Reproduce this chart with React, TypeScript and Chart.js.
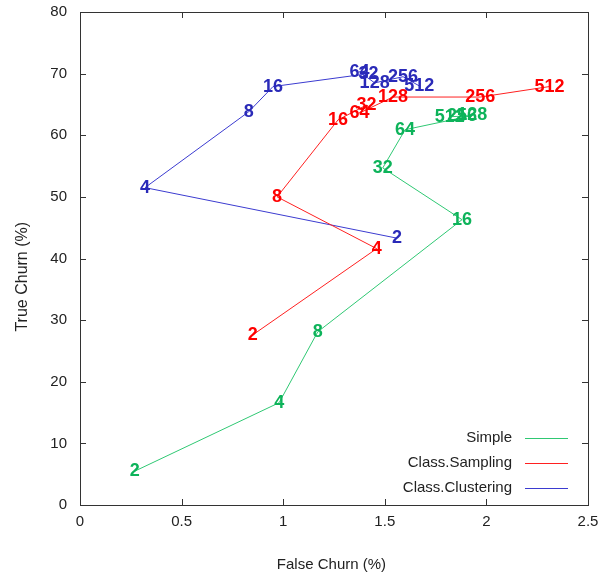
import React, { useEffect, useRef } from "react";
import { Chart, registerables } from "chart.js";

Chart.register(...registerables);

// ---- data ----
const pointLabels = ["2", "4", "8", "16", "32", "64", "128", "256", "512"];

const simpleX = [0.27, 0.98, 1.17, 1.88, 1.49, 1.6, 1.93, 1.88, 1.82];
const simpleY = [5.5, 16.6, 28.1, 46.3, 54.7, 60.9, 63.2, 63.1, 63.0];

const samplingX = [0.85, 1.46, 0.97, 1.27, 1.41, 1.375, 1.54, 1.97, 2.31];
const samplingY = [27.6, 41.6, 50.0, 62.5, 64.9, 63.6, 66.2, 66.2, 67.9];

const clusteringX = [1.56, 0.32, 0.83, 0.95, 1.42, 1.375, 1.45, 1.59, 1.67];
const clusteringY = [43.3, 51.5, 63.8, 67.9, 70.0, 70.3, 68.5, 69.5, 68.0];

const seriesNames = ["Simple", "Class.Sampling", "Class.Clustering"];
const lineColors = ["#2fc873", "#ff2020", "#3b3bd0"];
const labelColors = ["#0db35a", "#ff0000", "#2a2ab8"];

const xTicks = [0, 0.5, 1, 1.5, 2, 2.5];
const yTicks = [0, 10, 20, 30, 40, 50, 60, 70, 80];

const xTitle = "False Churn (%)";
const yTitle = "True Churn (%)";

const FONT = "'Liberation Sans Narrow', 'Liberation Sans', Arial, sans-serif";

const toPoints = (xs: number[], ys: number[]) => xs.map((x, i) => ({ x, y: ys[i] }));

const framePlugin = {
  id: "frameTicks",
  afterDraw(chart: any) {
    const { ctx, chartArea } = chart;
    const { left, right, top, bottom } = chartArea;
    const xs = chart.scales.x;
    const ys = chart.scales.y;
    ctx.save();
    ctx.strokeStyle = "#333";
    ctx.lineWidth = 1;
    ctx.strokeRect(Math.round(left) + 0.5, Math.round(top) + 0.5, Math.round(right - left), Math.round(bottom - top));
    const tl = 6;
    ctx.beginPath();
    xTicks.forEach((v) => {
      const px = Math.round(xs.getPixelForValue(v)) + 0.5;
      ctx.moveTo(px, bottom);
      ctx.lineTo(px, bottom - tl);
      ctx.moveTo(px, top);
      ctx.lineTo(px, top + tl);
    });
    yTicks.forEach((v) => {
      const py = Math.round(ys.getPixelForValue(v)) + 0.5;
      ctx.moveTo(left, py);
      ctx.lineTo(left + tl, py);
      ctx.moveTo(right, py);
      ctx.lineTo(right - tl, py);
    });
    ctx.stroke();

    // axis titles
    ctx.fillStyle = "#222";
    ctx.textAlign = "center";
    ctx.textBaseline = "middle";
    ctx.font = `15px ${FONT}`;
    ctx.fillText(xTitle, left + (right - left) * 0.495, 565);
    ctx.save();
    ctx.translate(23, top + (bottom - top) * 0.537);
    ctx.rotate(-Math.PI / 2);
    ctx.font = `16px ${FONT}`;
    ctx.fillText(yTitle, 0, 0);
    ctx.restore();
    ctx.restore();
  },
};

const labelsPlugin = {
  id: "pointTextLabels",
  afterDatasetsDraw(chart: any) {
    const { ctx } = chart;
    ctx.save();
    ctx.font = `bold 18px ${FONT}`;
    ctx.textAlign = "center";
    ctx.textBaseline = "middle";
    chart.data.datasets.forEach((ds: any, di: number) => {
      const meta = chart.getDatasetMeta(di);
      ctx.fillStyle = labelColors[di];
      meta.data.forEach((el: any, i: number) => {
        ctx.fillText(pointLabels[i], el.x, el.y);
      });
    });
    ctx.restore();
  },
};

const legendPlugin = {
  id: "gnuLegend",
  afterDraw(chart: any) {
    const { ctx, chartArea } = chart;
    ctx.save();
    ctx.font = `15px ${FONT}`;
    ctx.textAlign = "right";
    ctx.textBaseline = "middle";
    const textRight = chartArea.right - 76;
    const lineStart = chartArea.right - 63;
    const lineEnd = chartArea.right - 20;
    const y0 = chartArea.bottom - 67;
    const gap = 25;
    seriesNames.forEach((name, i) => {
      const y = y0 + i * gap;
      ctx.fillStyle = "#222";
      ctx.fillText(name, textRight, y);
      ctx.strokeStyle = lineColors[i];
      ctx.lineWidth = 1.2;
      ctx.beginPath();
      ctx.moveTo(lineStart, Math.round(y) + 0.5);
      ctx.lineTo(lineEnd, Math.round(y) + 0.5);
      ctx.stroke();
    });
    ctx.restore();
  },
};

export default function App() {
  const ref = useRef<HTMLCanvasElement | null>(null);
  useEffect(() => {
    if (!ref.current) return;
    const chart = new Chart(ref.current, {
      type: "scatter",
      data: {
        datasets: [
          { label: seriesNames[0], data: toPoints(simpleX, simpleY) },
          { label: seriesNames[1], data: toPoints(samplingX, samplingY) },
          { label: seriesNames[2], data: toPoints(clusteringX, clusteringY) },
        ].map((d, i) => ({
          ...d,
          showLine: true,
          borderColor: lineColors[i],
          backgroundColor: lineColors[i],
          borderWidth: 1,
          pointRadius: 0,
          pointHoverRadius: 0,
        })),
      },
      options: {
        animation: false,
        responsive: false,
        maintainAspectRatio: false,
        layout: { padding: { top: 12, right: 28, left: 0, bottom: 0 } },
        plugins: { legend: { display: false }, tooltip: { enabled: false } },
        scales: {
          x: {
            type: "linear",
            min: 0,
            max: 2.5,
            afterBuildTicks: (s: any) => {
              s.ticks = xTicks.map((v) => ({ value: v }));
            },
            afterFit: (s: any) => {
              s.height = 76;
              s.paddingLeft = 0;
              s.paddingRight = 0;
            },
            grid: { display: false, drawTicks: false },
            border: { display: false },
            ticks: {
              padding: 8,
              color: "#222",
              font: { family: FONT, size: 15 },
              callback: (v: any) => String(v),
            },
          },
          y: {
            type: "linear",
            min: 0,
            max: 80,
            afterBuildTicks: (s: any) => {
              s.ticks = yTicks.map((v) => ({ value: v }));
            },
            afterFit: (s: any) => {
              s.width = 80;
              s.paddingTop = 0;
              s.paddingBottom = 0;
            },
            grid: { display: false, drawTicks: false },
            border: { display: false },
            ticks: {
              padding: 13,
              color: "#222",
              font: { family: FONT, size: 15 },
              callback: (v: any) => String(v),
            },
          },
        },
      },
      plugins: [framePlugin, labelsPlugin, legendPlugin],
    });
    return () => chart.destroy();
  }, []);
  return (
    <div style={{ position: "absolute", left: 0, top: 0, width: 616, height: 581 }}>
      <canvas ref={ref} width={616} height={581} style={{ display: "block" }} />
    </div>
  );
}
